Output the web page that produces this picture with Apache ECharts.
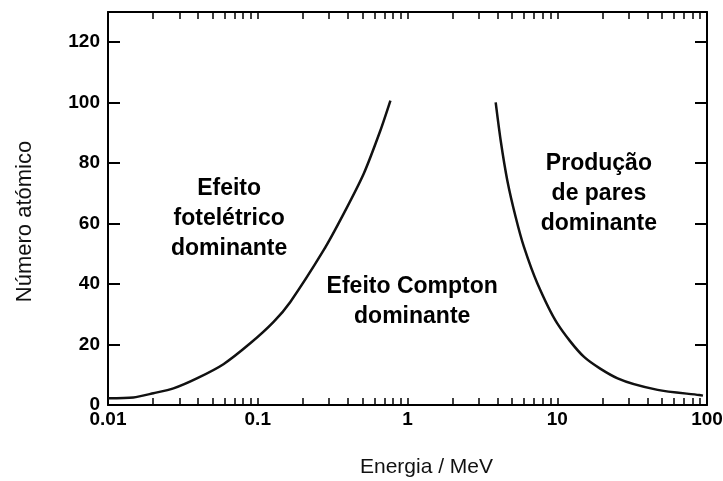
<html lang="pt">
<head>
<meta charset="UTF-8">
<title>Número atómico vs Energia</title>
<script src="https://cdn.jsdelivr.net/npm/echarts@6/dist/echarts.min.js"></script>
<style>
html, body { margin: 0; padding: 0; background: #fff; }
</style>
</head>
<body>
<div id="main" style="width: 723px;height:481px;"></div>
<script type="text/javascript">
// fronteira efeito fotoeléctrico / Compton
var fotoE = [0.01, 0.01476, 0.0201, 0.02735, 0.0392, 0.059, 0.0891, 0.1276, 0.165, 0.2754, 0.375, 0.51, 0.659, 0.769];
var fotoZ = [2.2, 2.5, 3.9, 5.5, 8.8, 13.5, 20.4, 27.5, 34.1, 51.2, 63.3, 76.5, 90.8, 100.7];
// fronteira Compton / produção de pares
var paresE = [3.88, 4.19, 4.64, 5.28, 6.0, 7.37, 10.0, 15.1, 25.3, 46.8, 88.9, 94];
var paresZ = [100.1, 87.5, 74.3, 62.1, 52.2, 40.2, 27, 15.9, 8.8, 5.0, 3.3, 3.1];

var xLabels = [0.01, 0.1, 1, 10, 100];
var xTicks = [0.02,0.03,0.04,0.05,0.06,0.07,0.08,0.09,0.1,
              0.2,0.3,0.4,0.5,0.6,0.7,0.8,0.9,1,
              2,3,4,5,6,7,8,9,10,
              20,30,40,50,60,70,80,90];
var yLabels = [0, 20, 40, 60, 80, 100, 120];

var regiaoTexto = ['Efeito\nfotelétrico\ndominante', 'Efeito Compton\ndominante', 'Produção\nde pares\ndominante'];
var regiaoE = [0.0644, 1.075, 18.97];
var regiaoZ = [61.7, 34.1, 70];

function pares(xs, ys){
	return xs.map(function(x, i){ return [x, ys[i]]; });
}

var boldFont = '"Liberation Sans", Arial, sans-serif';
var chart = echarts.init(document.getElementById('main'));

var option = {
	animation: false,
	backgroundColor: '#fff',
	grid: { left: 108, right: 16, top: 12, bottom: 76, containLabel: false, outerBoundsMode: 'none' },
	xAxis: [{
		type: 'log',
		logBase: 10,
		min: 0.01,
		max: 100,
		name: 'Energia / MeV',
		nameLocation: 'middle',
		nameGap: 52,
		nameTextStyle: { fontSize: 21, color: '#111', fontFamily: boldFont, padding: [0, 0, 0, 38] },
		axisLine: { onZero: false, lineStyle: { color: '#000', width: 2 } },
		axisTick: { inside: true, length: 7, customValues: xTicks, lineStyle: { color: '#000', width: 1.5 } },
		axisLabel: { customValues: xLabels, margin: 5, fontSize: 19, fontWeight: 'bold', color: '#000', fontFamily: boldFont },
		splitLine: { show: false },
		minorTick: { show: false }
	}, {
		type: 'log',
		logBase: 10,
		min: 0.01,
		max: 100,
		position: 'top',
		axisLine: { onZero: false, lineStyle: { color: '#000', width: 2 } },
		axisTick: { inside: true, length: 7, customValues: xTicks, lineStyle: { color: '#000', width: 1.5 } },
		axisLabel: { show: false },
		splitLine: { show: false }
	}],
	yAxis: [{
		type: 'value',
		min: 0,
		max: 130,
		name: 'Número atómico',
		nameLocation: 'middle',
		nameGap: 72,
		nameTextStyle: { fontSize: 22, color: '#111', fontFamily: boldFont, padding: [0, 26, 0, 0] },
		axisLine: { show: true, onZero: false, lineStyle: { color: '#000', width: 2 } },
		axisTick: { show: true, inside: true, length: 12, customValues: yLabels, lineStyle: { color: '#000', width: 2 } },
		axisLabel: { customValues: yLabels, margin: 8, fontSize: 19, fontWeight: 'bold', color: '#000', fontFamily: boldFont },
		splitLine: { show: false }
	}, {
		type: 'value',
		min: 0,
		max: 130,
		position: 'right',
		axisLine: { show: true, onZero: false, lineStyle: { color: '#000', width: 2 } },
		axisTick: { show: true, inside: true, length: 12, customValues: yLabels, lineStyle: { color: '#000', width: 2 } },
		axisLabel: { show: false },
		splitLine: { show: false }
	}],
	series: [{
		name: 'fotoeléctrico',
		type: 'line',
		data: pares(fotoE, fotoZ),
		smooth: 0.25,
		showSymbol: false,
		lineStyle: { color: '#111', width: 2.5 }
	}, {
		name: 'pares',
		type: 'line',
		data: pares(paresE, paresZ),
		smooth: 0.25,
		showSymbol: false,
		lineStyle: { color: '#111', width: 2.5 }
	}]
};
chart.setOption(option);

// textos das regiões, colocados em coordenadas dos dados
var textos = regiaoTexto.map(function(t, i){
	var p = chart.convertToPixel({ xAxisIndex: 0, yAxisIndex: 0 }, [regiaoE[i], regiaoZ[i]]);
	return {
		type: 'text',
		x: p[0],
		y: p[1],
		style: {
			text: t,
			fill: '#000',
			fontSize: 23,
			fontWeight: 'bold',
			fontFamily: boldFont,
			lineHeight: 30,
			align: 'center',
			verticalAlign: 'middle'
		}
	};
});
chart.setOption({ graphic: textos });
</script>
</body>
</html>
